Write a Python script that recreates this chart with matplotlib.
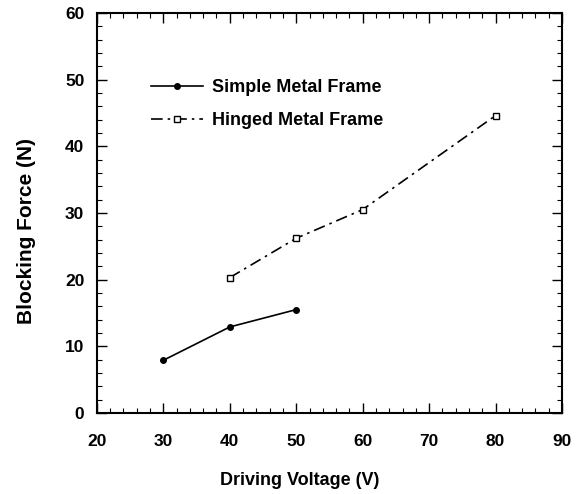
import matplotlib
matplotlib.use('Agg')
from matplotlib import pyplot as plt
from matplotlib.ticker import MultipleLocator

plt.rcParams['font.family'] = ['Liberation Sans', 'DejaVu Sans']
plt.rcParams['font.weight'] = 'bold'

# data
simple_v = [30, 40, 50]
simple_f = [7.9, 12.9, 15.5]
hinged_v = [40, 50, 60, 80]
hinged_f = [20.3, 26.2, 30.5, 44.6]

fig = plt.figure(figsize=(5.8, 4.94), dpi=100)
ax = fig.add_axes([0.167, 0.164, 0.802, 0.81])

ax.plot(simple_v, simple_f, color='black', lw=1.2, marker='o', ms=4,
        mfc='black', label='Simple Metal Frame')
ax.plot(hinged_v, hinged_f, color='black', lw=1.2, marker='s', ms=4.5,
        mfc='white', dashes=(7, 3, 1.5, 3), label='Hinged Metal Frame')

ax.set_xlim(20, 90)
ax.set_ylim(0, 60)
ax.xaxis.set_major_locator(MultipleLocator(10))
ax.xaxis.set_minor_locator(MultipleLocator(2))
ax.yaxis.set_major_locator(MultipleLocator(10))
ax.yaxis.set_minor_locator(MultipleLocator(2))
ax.tick_params(which='both', direction='in', top=True, right=True, labelsize=12.5)
ax.tick_params(which='major', length=7, width=1)
ax.tick_params(which='minor', length=3.5, width=0.8)
ax.tick_params(axis='x', pad=15)
ax.tick_params(axis='y', pad=9)
for s in ax.spines.values():
    s.set_linewidth(1.5)

ax.set_xlabel('Driving Voltage (V)', fontsize=13, fontweight='bold')
ax.set_ylabel('Blocking Force (N)', fontsize=15, fontweight='bold')
ax.xaxis.set_label_coords(0.437, -0.147)
ax.yaxis.set_label_coords(-0.13, 0.455)

ax.legend(loc='upper left', bbox_to_anchor=(0.081, 0.875), frameon=False,
          handlelength=2.9, fontsize=13, labelspacing=0.9, handletextpad=0.5)

plt.savefig('out.png', dpi=100)
